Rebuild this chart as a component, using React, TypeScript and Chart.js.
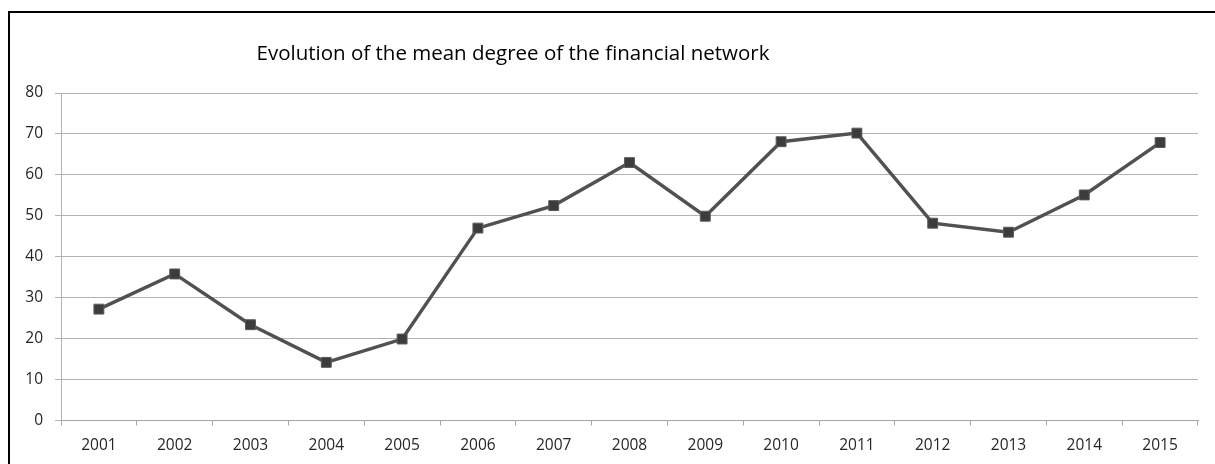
import React, { useEffect, useRef } from "react";
import { Chart, registerables } from "chart.js";

Chart.register(...registerables);

const titleText = "Evolution of the mean degree of the financial network";
const years = ["2001", "2002", "2003", "2004", "2005", "2006", "2007", "2008", "2009", "2010", "2011", "2012", "2013", "2014", "2015"];
const meanDegree = [27.2, 35.8, 23.4, 14.2, 19.9, 47.0, 52.5, 63.0, 49.9, 68.1, 70.2, 48.2, 46.0, 55.1, 67.9];
const yTicks = { min: 0, max: 80, step: 10 };

const FONT = "'Open Sans', 'Noto Sans', sans-serif";

const titlePlugin = {
  id: "offsetTitle",
  afterDraw(chart: any) {
    const ctx = chart.ctx;
    ctx.save();
    ctx.font = `normal 20.5px ${FONT}`;
    ctx.fillStyle = "#000000";
    ctx.textAlign = "center";
    ctx.textBaseline = "middle";
    ctx.fillText(titleText, 513, 54);
    ctx.restore();
  },
};

export default function App() {
  const ref = useRef<HTMLCanvasElement | null>(null);

  useEffect(() => {
    if (!ref.current) return;
    const chart = new Chart(ref.current, {
      type: "line",
      data: {
        labels: years,
        datasets: [
          {
            data: meanDegree,
            borderColor: "#515151",
            borderWidth: 3.4,
            pointStyle: "rect",
            pointRadius: 7,
            pointBackgroundColor: "#3c3c3c",
            pointBorderColor: "#5a5a5a",
            pointBorderWidth: 1,
            tension: 0,
          },
        ],
      },
      plugins: [titlePlugin],
      options: {
        responsive: false,
        animation: false,
        layout: { padding: { left: 0, right: 17, top: 93, bottom: 0 } },
        plugins: {
          legend: { display: false },
          tooltip: { enabled: false },
          title: { display: false },
        },
        scales: {
          x: {
            offset: true,
            grid: {
              offset: true,
              drawOnChartArea: false,
              drawTicks: true,
              tickLength: 5,
              color: "#a6a6a6",
            },
            border: { display: true, color: "#a6a6a6", width: 1 },
            ticks: {
              color: "#262626",
              font: { family: FONT, size: 15.5 },
              padding: 11,
              maxRotation: 0,
              autoSkip: false,
            },
            afterFit: (scale: any) => {
              scale.height = 43.5;
            },
          },
          y: {
            min: yTicks.min,
            max: yTicks.max,
            ticks: {
              stepSize: yTicks.step,
              color: "#262626",
              font: { family: FONT, size: 15.5 },
              padding: 12,
            },
            grid: {
              color: "#b3b3b3",
              drawTicks: true,
              tickLength: 6,
            },
            border: { display: true, color: "#b3b3b3", width: 1 },
            afterFit: (scale: any) => {
              scale.width = 61;
            },
          },
        },
      },
    });
    return () => chart.destroy();
  }, []);

  return (
    <div style={{ position: "absolute", left: 0, top: 0, width: 1215, height: 464, background: "#fff" }}>
      <div
        style={{
          position: "absolute",
          left: 8,
          top: 11,
          width: 1220,
          height: 470,
          borderLeft: "2px solid #000",
          borderTop: "2px solid #000",
          boxSizing: "border-box",
        }}
      />
      <canvas ref={ref} width={1215} height={464} style={{ position: "absolute", left: 0, top: 0 }} />
    </div>
  );
}
